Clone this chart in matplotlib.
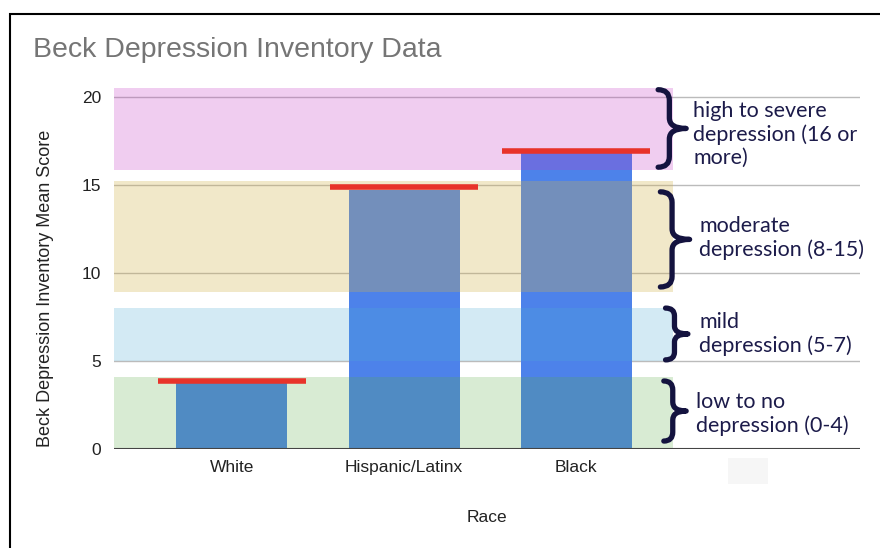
import matplotlib
matplotlib.use("Agg")
import matplotlib.pyplot as plt
from matplotlib.path import Path
from matplotlib.patches import PathPatch, Rectangle

# data
races = ['White', 'Hispanic/Latinx', 'Black']
mean_scores = [3.75, 14.7, 17.0]
marker_scores = [3.85, 14.85, 16.9]

# severity bands (low, high) and their labels
band_ranges = [(0, 4.1), (5.0, 8.0), (8.9, 15.2), (15.85, 20.5)]
band_colors = ['#5aac44', '#50acd4', '#d2b048', '#c438c4']
band_alpha = [0.23, 0.25, 0.29, 0.25]
band_labels = ['low to no\ndepression (0-4)',
               'mild\ndepression (5-7)',
               'moderate\ndepression (8-15)',
               'high to severe\ndepression (16 or\nmore)']

plt.rcParams['font.family'] = ['Liberation Sans', 'DejaVu Sans']

fig = plt.figure(figsize=(8.8, 5.48), dpi=100)
ax = fig.add_axes([0.1295, 0.1807, 0.8477, 0.6588])

x = list(range(len(races)))
ax.bar(x, mean_scores, width=0.645, color='#4d82ea', zorder=2)
ax.hlines(marker_scores, [i - 0.43 for i in x], [i + 0.43 for i in x],
          color='#e8332a', lw=4, zorder=4)

# coloured bands drawn over the bars
for (lo, hi), c, a in zip(band_ranges, band_colors, band_alpha):
    ax.add_patch(Rectangle((-0.686, lo), 2.564 + 0.686, hi - lo,
                           facecolor=c, alpha=a, edgecolor='none', zorder=3))

# gridlines and baseline
for g in [5, 10, 15, 20]:
    ax.axhline(g, color='#bbbbbb', lw=1, zorder=1)
ax.axhline(0, color='#444444', lw=1.5, zorder=5)


def brace(xl, xr, y0, y1, frac=0.4):
    xs = xl + frac * (xr - xl)
    ym = (y0 + y1) / 2
    r = min(0.6, (y1 - y0) * 0.15)
    verts = [(xl, y1), (xs, y1), (xs, y1 - r), (xs, ym + r),
             (xs, ym), (xr, ym), (xs, ym), (xs, ym - r),
             (xs, y0 + r), (xs, y0), (xl, y0)]
    codes = [Path.MOVETO, Path.CURVE3, Path.CURVE3, Path.LINETO,
             Path.CURVE3, Path.CURVE3, Path.CURVE3, Path.CURVE3,
             Path.LINETO, Path.CURVE3, Path.CURVE3]
    ax.add_patch(PathPatch(Path(verts, codes), fill=False, lw=3.8,
                           edgecolor='#14133f', capstyle='round',
                           joinstyle='round', clip_on=False, zorder=6))


brace_spans = [(2.51, 2.64, 0.45, 3.86), (2.52, 2.65, 5.06, 8.0),
               (2.49, 2.66, 9.2, 14.6), (2.477, 2.64, 16.0, 20.4)]
label_pos = [(2.70, 2.0), (2.715, 6.53), (2.715, 12.0), (2.68, 17.84)]
for (xl, xr, y0, y1), (tx, ty), lab in zip(brace_spans, label_pos, band_labels):
    brace(xl, xr, y0, y1)
    ax.text(tx, ty, lab, ha='left', va='center', fontsize=15.5,
            family=['Lato', 'DejaVu Sans'], color='#1c1b4a',
            linespacing=1.2, zorder=6)

ax.set_xlim(-0.686, 3.65)
ax.set_ylim(0, 20.5)
ax.set_xticks(x)
ax.set_xticklabels(races, fontsize=12.5, color='#222222')
ax.set_yticks([0, 5, 10, 15, 20])
ax.tick_params(axis='y', labelsize=12.5, labelcolor='#222222', length=0, pad=9)
ax.tick_params(axis='x', length=0, pad=8)
for s in ax.spines.values():
    s.set_visible(False)
ax.set_ylabel('Beck Depression Inventory Mean Score', fontsize=13,
              color='#222222')
ax.yaxis.set_label_coords(-0.081, 0.446)
ax.set_xlabel('Race', fontsize=12.5, color='#222222', labelpad=25)

fig.text(33 / 880, 1 - 50 / 548, 'Beck Depression Inventory Data',
         fontsize=20.5, color='#757575', va='center', ha='left')

# outer frame and the faint box
fig.patches.append(Rectangle((10 / 880, -0.1), 1.2, 1 - 14 / 548 + 0.1,
                             transform=fig.transFigure, fill=False,
                             edgecolor='black', lw=1.5))
fig.patches.append(Rectangle((728 / 880, 1 - 484 / 548), 40 / 880, 26 / 548,
                             transform=fig.transFigure, facecolor='#f6f6f6',
                             edgecolor='none'))

fig.savefig('out.png', dpi=100)
